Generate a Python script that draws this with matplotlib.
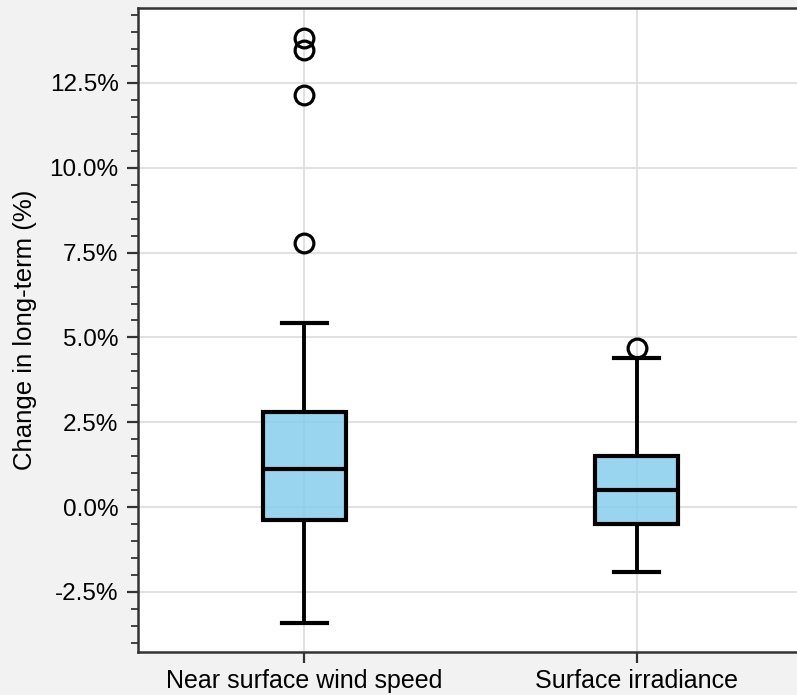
import matplotlib
matplotlib.use("Agg")
import matplotlib.pyplot as plt
from matplotlib.ticker import MultipleLocator, FuncFormatter

plt.rcParams['font.family'] = ['Liberation Sans', 'DejaVu Sans']

# box statistics (in %)
labels = ["Near surface wind speed", "Surface irradiance"]
q1 = [-0.38, -0.50]
med = [1.12, 0.50]
q3 = [2.80, 1.50]
whislo = [-3.42, -1.92]
whishi = [5.42, 4.39]
fliers = [[13.83, 13.47, 12.15, 7.78], [4.69]]

stats = []
for i in range(len(labels)):
	stats.append(dict(label=labels[i], q1=q1[i], med=med[i], q3=q3[i],
		whislo=whislo[i], whishi=whishi[i], fliers=fliers[i]))

fig = plt.figure(figsize=(7.97, 6.95), dpi=100, facecolor='#f2f2f2')
ax = fig.add_axes([0.1732, 0.0619, 0.8343, 0.9266])
ax.set_facecolor('white')

ax.bxp(stats, positions=[1, 2], widths=0.25, capwidths=0.136, patch_artist=True,
	boxprops=dict(facecolor=(0.529, 0.808, 0.922, 0.85), edgecolor='black', linewidth=3.0),
	medianprops=dict(color='black', linewidth=3.0),
	whiskerprops=dict(color='black', linewidth=2.8),
	capprops=dict(color='black', linewidth=3.0),
	flierprops=dict(marker='o', markersize=13.5, markerfacecolor='none',
		markeredgecolor='black', markeredgewidth=2.3))

ax.set_xlim(0.5, 2.5)
ax.set_ylim(-4.27, 14.71)
ax.yaxis.set_major_locator(MultipleLocator(2.5))
ax.yaxis.set_minor_locator(MultipleLocator(0.5))
ax.yaxis.set_major_formatter(FuncFormatter(lambda v, p: "%.1f%%" % v))
ax.set_xticks([1, 2])
ax.set_xticklabels(labels)

ax.grid(True, which='major', color='#dcdcdc', linewidth=1.2)
ax.set_axisbelow(True)

for s in ['left', 'bottom', 'top']:
	ax.spines[s].set_linewidth(1.8)
	ax.spines[s].set_color('#333333')
ax.spines['right'].set_visible(False)

ax.tick_params(axis='both', which='major', length=8, width=1.6, color='#333333', pad=6)
ax.tick_params(axis='y', which='major', labelsize=17.5)
ax.tick_params(axis='x', which='major', labelsize=18, pad=4)
ax.tick_params(axis='y', which='minor', length=5, width=1.3, color='#333333')
ax.set_ylabel("Change in long-term (%)", fontsize=18.5, labelpad=9)

plt.savefig("out.png", dpi=100, facecolor=fig.get_facecolor())
